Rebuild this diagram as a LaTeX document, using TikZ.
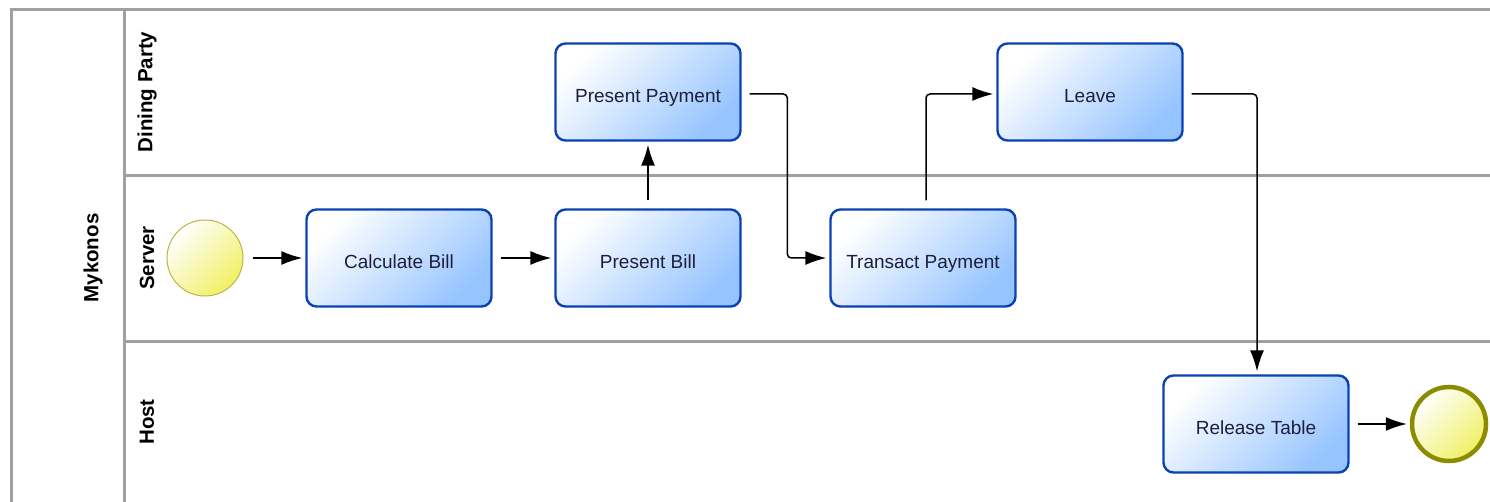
\documentclass[tikz,border=0pt]{standalone}
\usepackage{fontspec}
\setmainfont{Liberation Sans}
\usetikzlibrary{arrows.meta,calc}
\definecolor{lanegray}{RGB}{160,160,160}
\definecolor{taskblue}{RGB}{10,65,180}
\definecolor{taskfill}{RGB}{150,196,255}
\definecolor{evfill}{RGB}{240,240,100}
\definecolor{evline}{RGB}{185,185,70}
\definecolor{endline}{RGB}{140,140,0}
\definecolor{txt}{RGB}{30,30,60}
\tikzset{
  lane/.style={draw=lanegray, line width=3pt},
  lanelabel/.style={rotate=90, font=\fontsize{20.5}{22}\selectfont\bfseries, text=black},
  task/.style={rectangle, rounded corners=10pt, draw=taskblue, line width=2.4pt,
    minimum width=185pt, minimum height=97pt, top color=white, bottom color=taskfill,
    shading angle=45, font=\fontsize{19}{21}\selectfont, text=txt,
    text height=21pt, text depth=0pt},
  startev/.style={circle, draw=evline, line width=1pt, minimum size=76pt, inner sep=0pt,
    top color=white, bottom color=evfill, shading angle=45},
  endev/.style={circle, draw=endline, line width=4.5pt, minimum size=74pt, inner sep=0pt,
    top color=white, bottom color=evfill, shading angle=45},
  flow/.style={draw=black, line width=1.5pt, rounded corners=4pt,
    -{Latex[length=21pt,width=14pt]}, shorten >=3pt}
}
\begin{document}
\begin{tikzpicture}[x=1pt,y=-1pt]
\useasboundingbox (0,0) rectangle (1490,502);
% pool and lanes
\draw[lane] (1490,10) -- (11,10) -- (11,502);
\draw[lane] (124,10) -- (124,502);
\draw[lane] (124,176) -- (1490,176);
\draw[lane] (124,341) -- (1490,341);
\node[lanelabel] (pool) at (93,258) {Mykonos};
\node[lanelabel] (l1) at (147,92) {Dining Party};
\node[lanelabel] (l2) at (147,258) {Server};
\node[lanelabel] (l3) at (147,422) {Host};
% nodes
\node[startev] (start) at (205,258) {};
\node[task] (cb) at (399,258) {Calculate Bill};
\node[task] (pb) at (648,258) {Present Bill};
\node[task] (pp) at (648,92) {Present Payment};
\node[task] (tp) at (923,258) {Transact Payment};
\node[task] (lv) at (1090,92) {Leave};
\node[task] (rt) at (1256,424) {Release Table};
\node[endev] (end) at (1449,424) {};
% connectors
\draw[flow] ([xshift=9pt]start.east) -- (cb.west);
\draw[flow] ([xshift=8pt]cb.east) -- (pb.west);
\draw[flow] ([yshift=8pt]pb.north) -- (pp.south);
\draw[flow] ([xshift=8pt,yshift=-2pt]pp.east) -| ([xshift=-42pt]tp.west) -- (tp.west);
\draw[flow] ([xshift=3pt,yshift=8pt]tp.north) |- ([yshift=-2pt]lv.west);
\draw[flow] ([xshift=8pt,yshift=-2pt]lv.east) -| ([xshift=1pt]rt.north);
\draw[flow] ([xshift=8pt]rt.east) -- (end.west);
\end{tikzpicture}
\end{document}
